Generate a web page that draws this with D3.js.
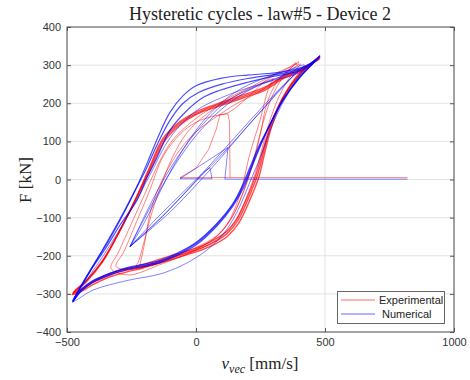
<!DOCTYPE html>
<html>
<head>
  <meta charset="utf-8">
  <title>Hysteretic cycles</title>
  <style>
    body { margin: 0; background: #fff; }
    .tick text { font-family: "Liberation Sans", Arial, sans-serif; font-size: 11px; fill: #333; }
  </style>
</head>
<body>
<script src="https://cdnjs.cloudflare.com/ajax/libs/d3/7.8.5/d3.min.js"></script>
<div id="vis"></div>
<script>

// tick values
var xTicks = [-500, 0, 500, 1000];
var yTicks = [-400, -300, -200, -100, 0, 100, 200, 300, 400];

// experimental cycles, [v (mm/s), F (kN)]
var expOuterA = [[480,318],[440,300],[400,285],[337,268],[260,236],[200,222],[105,200],[50,188],[4,174],[-62,148],[-128,102],[-178,30],[-229,-45],[-295,-134],[-360,-212],[-420,-262],[-478,-300],
  [-440,-288],[-400,-270],[-333,-250],[-270,-238],[-205,-228],[-140,-214],[-74,-200],[0,-185],[60,-168],[120,-142],[160,-110],[190,-70],[215,-30],[240,15],[265,80],[290,140],[337,215],[400,275],[450,305],[478,318]];
var expOuterB = [[482,320],[440,302],[400,288],[340,270],[260,240],[200,226],[105,204],[50,191],[0,177],[-62,152],[-128,108],[-180,32],[-232,-48],[-298,-138],[-362,-216],[-422,-266],[-480,-302],
  [-440,-292],[-400,-276],[-333,-255],[-270,-243],[-205,-232],[-140,-219],[-74,-205],[0,-190],[60,-174],[120,-150],[165,-115],[195,-75],[222,-33],[246,12],[270,80],[295,142],[340,218],[402,280],[450,307],[480,320]];
var expOuterC = [[478,316],[440,298],[400,283],[340,265],[260,232],[200,218],[105,196],[50,184],[0,170],[-62,143],[-125,98],[-175,28],[-226,-42],[-292,-130],[-358,-208],[-418,-260],[-476,-296],
  [-440,-286],[-400,-268],[-333,-246],[-270,-234],[-205,-223],[-140,-209],[-74,-195],[0,-180],[60,-162],[120,-136],[158,-104],[186,-66],[210,-28],[234,16],[260,78],[286,138],[335,212],[400,272],[448,303],[478,316]];
var expMid1 = [[398,309],[392,300],[385,306],[370,298],[330,285],[280,268],[220,245],[150,222],[80,196],[20,170],[-40,138],[-100,95],[-150,35],[-200,-40],[-250,-115],[-300,-190],[-330,-232],
  [-300,-246],[-250,-250],[-200,-240],[-150,-226],[-100,-213],[-40,-197],[20,-176],[80,-150],[130,-110],[170,-55],[200,0],[230,70],[260,150],[300,225],[350,280],[398,309]];
var expMid2 = [[300,265],[270,258],[220,240],[150,218],[80,190],[20,160],[-40,118],[-90,60],[-130,-5],[-170,-85],[-200,-160],[-220,-210],[-232,-232],
  [-180,-226],[-120,-213],[-60,-199],[0,-183],[60,-160],[120,-118],[170,-40],[209,68],[248,155],[277,230],[300,265]];
var expMid3 = [[390,305],[340,285],[275,262],[200,215],[124,175],[60,165],[0,150],[-60,120],[-128,60],[-180,-30],[-230,-110],[-280,-190],[-310,-228],
  [-250,-236],[-180,-224],[-100,-206],[0,-178],[80,-148],[140,-98],[180,-40],[220,40],[250,120],[275,200],[320,262],[390,305]];
var expMid4 = [[-220,-232],[-200,-170],[-178,-89],[-150,-30],[-112,24],[-60,80],[0,125],[80,165],[150,196],[250,232],[330,270],[405,303],
  [370,275],[320,215],[275,130],[240,40],[200,-40],[150,-110],[80,-158],[0,-186],[-100,-212],[-220,-232]];
var expStart = [[820,5],[-62,5],[0,30],[50,80],[80,135],[93,170],[124,172],[130,150],[132,5]];

// numerical cycles, [v (mm/s), F (kN)]
var numOuterA = [[481,325],[440,303],[400,292],[340,283],[280,278],[200,274],[100,266],[0,246],[-50,220],[-101,176],[-145,115],[-185,50],[-230,-20],[-285,-95],[-340,-162],[-395,-222],[-440,-272],[-478,-322],
  [-440,-285],[-399,-265],[-330,-245],[-267,-231],[-200,-222],[-140,-212],[-70,-192],[0,-165],[81,-115],[143,-63],[180,-15],[209,32],[240,82],[275,129],[337,207],[403,268],[450,302],[481,325]];
var numOuterB = [[480,323],[440,300],[400,285],[340,275],[280,268],[200,255],[93,234],[27,215],[-35,181],[-101,129],[-151,58],[-190,5],[-229,-55],[-295,-120],[-350,-180],[-400,-230],[-440,-275],[-478,-318],
  [-440,-290],[-400,-270],[-330,-250],[-267,-236],[-200,-228],[-140,-218],[-70,-198],[0,-172],[81,-122],[143,-70],[185,-20],[215,30],[245,80],[280,135],[340,212],[403,270],[450,303],[480,323]];
var numOuterC = [[480,324],[440,302],[400,289],[340,279],[280,273],[200,265],[100,250],[10,228],[-50,200],[-101,155],[-150,92],[-195,25],[-245,-40],[-300,-110],[-350,-170],[-400,-228],[-440,-273],[-478,-320],
  [-440,-287],[-400,-267],[-330,-247],[-267,-233],[-200,-225],[-140,-215],[-70,-195],[0,-168],[81,-118],[143,-66],[182,-18],[212,30],[242,80],[278,132],[338,210],[403,269],[450,302],[480,324]];
var numLow = [[480,324],[400,280],[300,260],[200,240],[100,215],[0,180],[-100,110],[-180,10],[-260,-90],[-350,-190],[-420,-260],[-478,-320],
  [-399,-290],[-267,-265],[-140,-248],[-62,-228],[0,-205],[60,-175],[120,-130],[170,-70],[210,-5],[250,60],[300,150],[360,230],[420,290],[480,324]];
var numInner1 = [[-256,-176],[-150,-110],[-50,-40],[50,35],[150,110],[250,185],[350,255],[420,300],
  [350,285],[250,262],[150,228],[50,170],[-30,100],[-100,20],[-160,-60],[-210,-125],[-256,-176]];
var numInner2 = [[-256,-176],[-100,-85],[0,-15],[100,60],[200,140],[300,215],[380,280],
  [300,262],[200,232],[100,185],[0,115],[-80,40],[-150,-40],[-210,-115],[-256,-176]];
var numInner4 = [[-256,-176],[-120,-90],[0,-5],[120,80],[240,170],[330,240],[400,290],
  [330,270],[230,245],[120,205],[20,140],[-70,60],[-150,-30],[-256,-176]];
var numInner3 = [[-256,-176],[-150,-100],[-60,-40],[30,20],[54,31],[62,2],[-62,2],[124,84],[112,1],[820,1]];

var expCycles = [expOuterA, expOuterB, expOuterC, expMid1, expMid2, expMid3, expMid4];
var numCycles = [numOuterA, numOuterB, numOuterC, numLow, numInner1, numInner2, numInner4];
var expWidth = [1.4, 1.4, 1.4, 0.7, 0.7, 0.7, 0.7];
var numWidth = [1.2, 1.2, 1.2, 0.7, 0.7, 0.7, 0.7];

var W = 470, H = 380;
var svg = d3.select("#vis").append("svg").attr("width", W).attr("height", H);

var x = d3.scaleLinear().domain([-500, 1000]).range([67, 454]);
var y = d3.scaleLinear().domain([-400, 400]).range([332, 27]);

// grid
svg.append("g").selectAll("line").data(xTicks).enter().append("line")
  .attr("x1", function(d) { return x(d); }).attr("x2", function(d) { return x(d); })
  .attr("y1", y(400)).attr("y2", y(-400))
  .attr("stroke", "#e3e3e3").attr("stroke-width", 1);
svg.append("g").selectAll("line").data(yTicks).enter().append("line")
  .attr("y1", function(d) { return y(d); }).attr("y2", function(d) { return y(d); })
  .attr("x1", x(-500)).attr("x2", x(1000))
  .attr("stroke", "#e3e3e3").attr("stroke-width", 1);

svg.append("clipPath").attr("id", "plotclip").append("rect")
  .attr("x", 67).attr("y", 27).attr("width", 387).attr("height", 305);

var line = d3.line()
  .x(function(d) { return x(d[0]); })
  .y(function(d) { return y(d[1]); })
  .curve(d3.curveCatmullRom.alpha(0.5));
var straight = d3.line()
  .x(function(d) { return x(d[0]); })
  .y(function(d) { return y(d[1]); });

var plot = svg.append("g").attr("clip-path", "url(#plotclip)");

expCycles.forEach(function(c, i) {
  plot.append("path").attr("d", line(c)).attr("fill", "none")
    .attr("stroke", "#ff0000").attr("stroke-opacity", 0.7).attr("stroke-width", expWidth[i]);
});
plot.append("path").attr("d", straight(expStart)).attr("fill", "none")
  .attr("stroke", "#ff0000").attr("stroke-opacity", 0.6).attr("stroke-width", 0.8);

numCycles.forEach(function(c, i) {
  plot.append("path").attr("d", line(c)).attr("fill", "none")
    .attr("stroke", "#0000ff").attr("stroke-opacity", 0.7).attr("stroke-width", numWidth[i]);
});
plot.append("path").attr("d", straight(numInner3)).attr("fill", "none")
  .attr("stroke", "#0000ff").attr("stroke-opacity", 0.6).attr("stroke-width", 0.8);

// axes, ticks inside as in matlab
var axCol = "#555";
function styleAxis(g) {
  g.select(".domain").remove();
  g.selectAll(".tick line").attr("stroke", axCol);
}
svg.append("g").attr("transform", "translate(0," + y(-400) + ")")
  .call(d3.axisBottom(x).tickValues(xTicks).tickSize(-4).tickPadding(6).tickFormat(d3.format("d")))
  .call(styleAxis);
svg.append("g").attr("transform", "translate(0," + y(400) + ")")
  .call(d3.axisTop(x).tickValues(xTicks).tickSize(-4).tickFormat(""))
  .call(styleAxis);
svg.append("g").attr("transform", "translate(" + x(-500) + ",0)")
  .call(d3.axisLeft(y).tickValues(yTicks).tickSize(-4).tickPadding(6).tickFormat(d3.format("d")))
  .call(styleAxis);
svg.append("g").attr("transform", "translate(" + x(1000) + ",0)")
  .call(d3.axisRight(y).tickValues(yTicks).tickSize(-4).tickFormat(""))
  .call(styleAxis);
svg.selectAll(".tick text").attr("fill", "#333");

svg.append("rect").attr("x", x(-500)).attr("y", y(400))
  .attr("width", x(1000) - x(-500)).attr("height", y(-400) - y(400))
  .attr("fill", "none").attr("stroke", axCol).attr("stroke-width", 1);

// labels
svg.append("text").attr("x", 260).attr("y", 20).attr("text-anchor", "middle")
  .style("font-family", "'Liberation Serif', 'DejaVu Serif', serif").style("font-size", "18px")
  .attr("fill", "#222").text("Hysteretic cycles - law#5 - Device 2");

var xl = svg.append("text").attr("x", 260).attr("y", 369).attr("text-anchor", "middle")
  .style("font-family", "'Liberation Serif', serif").style("font-size", "17px").attr("fill", "#222");
xl.append("tspan").style("font-style", "italic").text("v");
xl.append("tspan").attr("dy", 4).style("font-style", "italic").style("font-size", "12px").text("vec");
xl.append("tspan").attr("dy", -4).text(" [mm/s]");

svg.append("text").attr("transform", "translate(31,180) rotate(-90)").attr("text-anchor", "middle")
  .style("font-family", "'Liberation Serif', serif").style("font-size", "17px")
  .attr("fill", "#222").text("F [kN]");

// legend
var legNames = ["Experimental", "Numerical"];
var legCols = ["#ff0000", "#0000ff"];
var lg = svg.append("g");
lg.append("rect").attr("x", 337.5).attr("y", 291.5).attr("width", 107).attr("height", 32)
  .attr("fill", "#fff").attr("stroke", "#666").attr("stroke-width", 1);
lg.selectAll("line").data(legNames).enter().append("line")
  .attr("x1", 341).attr("x2", 375)
  .attr("y1", function(d, i) { return 300 + i * 14; }).attr("y2", function(d, i) { return 300 + i * 14; })
  .attr("stroke", function(d, i) { return legCols[i]; }).attr("stroke-opacity", 0.6).attr("stroke-width", 1);
lg.selectAll("text").data(legNames).enter().append("text")
  .attr("x", function(d, i) { return i === 0 ? 379 : 382; })
  .attr("y", function(d, i) { return 304 + i * 14; })
  .style("font-family", "'Liberation Sans', Arial, sans-serif").style("font-size", "11px")
  .attr("fill", "#222").text(function(d) { return d; });

</script>
</body>
</html>
